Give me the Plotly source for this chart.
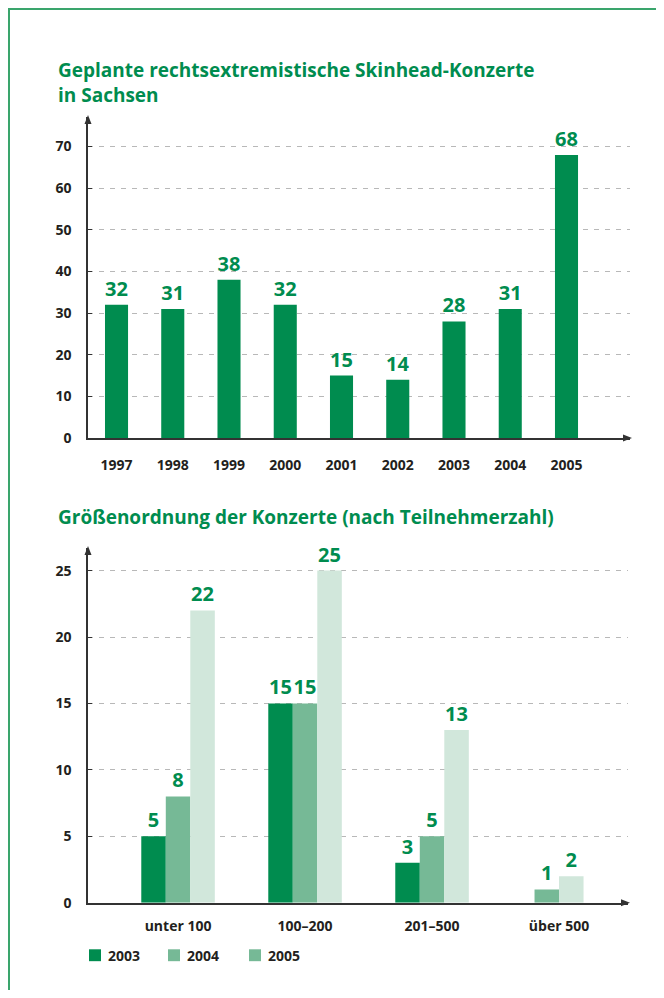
import plotly.graph_objects as go

# ---------------- data ----------------
years = ["1997", "1998", "1999", "2000", "2001", "2002", "2003", "2004", "2005"]
concerts = [32, 31, 38, 32, 15, 14, 28, 31, 68]

size_classes = ["unter 100", "100–200", "201–500", "über 500"]
series_names = ["2003", "2004", "2005"]
vals_2003 = [5, 15, 3, None]
vals_2004 = [8, 15, 5, 1]
vals_2005 = [22, 25, 13, 2]

top_title = "Geplante rechtsextremistische Skinhead-Konzerte<br>in Sachsen"
bottom_title = "Größenordnung der Konzerte (nach Teilnehmerzahl)"

top_yticks = [0, 10, 20, 30, 40, 50, 60, 70]
bottom_yticks = [0, 5, 10, 15, 20, 25]

# ---------------- style ----------------
# the page body has an 8px margin: the figure starts at screen (8, 8)
OFF = 8
W, H = 664 - OFF, 998 - 2 * OFF
DARK = "#008C4F"
MID = "#76B996"
LIGHT = "#D1E7DB"
TXT = "#231F20"
FONT = "Open Sans"
GRID = "#B8B8B8"
AX = "#333333"
series_colors = [DARK, MID, LIGHT]
legend_colors = [DARK, MID, MID]


def px(x):
    return (x - OFF) / W


def py(y):
    return 1 - (y - OFF) / H


fig = go.Figure()

# top chart
fig.add_trace(go.Bar(
    x=years, y=concerts, marker=dict(color=DARK, line=dict(width=0)),
    width=0.41, text=[str(v) for v in concerts], textposition="outside",
    textfont=dict(family=FONT, size=20, color=DARK, weight="bold"),
    constraintext="none", cliponaxis=False, xaxis="x", yaxis="y",
    showlegend=False, hoverinfo="skip",
))

# bottom chart
w = 0.193
all_vals = [vals_2003, vals_2004, vals_2005]
for k, (name, vals, col) in enumerate(zip(series_names, all_vals, series_colors)):
    offs = []
    for i in range(len(size_classes)):
        present = [j for j in range(3) if all_vals[j][i] is not None]
        if k in present:
            pos = present.index(k)
            offs.append((pos - len(present) / 2) * w)
        else:
            offs.append(0)
    fig.add_trace(go.Bar(
        x=size_classes, y=vals, name=name,
        marker=dict(color=col, line=dict(width=0)),
        width=w, offset=offs,
        text=[("" if v is None else str(v)) for v in vals], textposition="outside",
        textfont=dict(family=FONT, size=20, color=DARK, weight="bold"),
        constraintext="none", cliponaxis=False, xaxis="x2", yaxis="y2",
        showlegend=False, hoverinfo="skip",
    ))

tickfont = dict(family=FONT, size=14, color=TXT, weight="bold")

fig.update_layout(
    width=W, height=H,
    margin=dict(l=0, r=0, t=0, b=0),
    paper_bgcolor="white", plot_bgcolor="rgba(0,0,0,0)",
    barmode="overlay",
    xaxis=dict(domain=[px(88), px(630)], range=[-0.507, 9.129], type="category",
               showline=True, linecolor=AX, linewidth=1.5, showgrid=False,
               ticks="", tickfont=tickfont, ticklabelstandoff=13, anchor="y",
               fixedrange=True),
    yaxis=dict(domain=[py(442), py(118)], range=[0, 77.1],
               tickvals=top_yticks, showline=True, linecolor=AX, linewidth=1.5,
               showgrid=True, gridcolor=GRID, gridwidth=1, griddash="5px,6px",
               zeroline=False, ticks="inside", ticklen=4, tickcolor=AX,
               tickfont=tickfont, ticklabelstandoff=12, anchor="x",
               fixedrange=True),
    xaxis2=dict(domain=[px(88), px(628)], range=[-0.709, 3.543], type="category",
                showline=True, linecolor=AX, linewidth=1.5, showgrid=False,
                ticks="", tickfont=tickfont, ticklabelstandoff=10, anchor="y2",
                fixedrange=True),
    yaxis2=dict(domain=[py(911), py(553)], range=[0, 26.7],
                tickvals=bottom_yticks, showline=True, linecolor=AX, linewidth=1.5,
                showgrid=True, gridcolor=GRID, gridwidth=1, griddash="5px,6px",
                zeroline=False, ticks="inside", ticklen=4, tickcolor=AX,
                tickfont=tickfont, ticklabelstandoff=12, anchor="x2",
                fixedrange=True),
)

shapes = []
# frame (top-left corner of the page frame)
shapes.append(dict(type="rect", xref="paper", yref="paper",
                   x0=px(9), x1=px(700), y0=py(9), y1=py(1100),
                   line=dict(color="#3AA56C", width=2), fillcolor="rgba(0,0,0,0)"))


def up_arrow(x, y):
    return dict(type="path", xref="paper", yref="paper",
                path=f"M{px(x)},{py(y)} L{px(x-3.5)},{py(y+9)} L{px(x+3.5)},{py(y+9)} Z",
                fillcolor=AX, line=dict(width=0))


def right_arrow(x, y):
    return dict(type="path", xref="paper", yref="paper",
                path=f"M{px(x)},{py(y)} L{px(x-9)},{py(y-3.5)} L{px(x-9)},{py(y+3.5)} Z",
                fillcolor=AX, line=dict(width=0))


shapes += [up_arrow(88, 116), right_arrow(632, 442),
           up_arrow(88, 551), right_arrow(630, 911)]

# manual legend
leg_x = [89, 168, 249]
for xs, col in zip(leg_x, legend_colors):
    shapes.append(dict(type="rect", xref="paper", yref="paper",
                       x0=px(xs), x1=px(xs + 12), y0=py(970), y1=py(958),
                       fillcolor=col, line=dict(width=0)))
fig.update_layout(shapes=shapes)

annotations = [
    dict(text=top_title, xref="paper", yref="paper", x=px(56), y=py(55),
         xanchor="left", yanchor="top", align="left", showarrow=False,
         font=dict(family=FONT, size=19, color=DARK, weight="bold")),
    dict(text=bottom_title, xref="paper", yref="paper", x=px(56), y=py(522),
         xanchor="left", yanchor="middle", align="left", showarrow=False,
         font=dict(family=FONT, size=19, color=DARK, weight="bold")),
]
for xs, name in zip(leg_x, series_names):
    annotations.append(dict(text=name, xref="paper", yref="paper", x=px(xs + 17), y=py(964),
                            xanchor="left", yanchor="middle", showarrow=False,
                            font=tickfont))
fig.update_layout(annotations=annotations)

fig.write_html("out.html")
